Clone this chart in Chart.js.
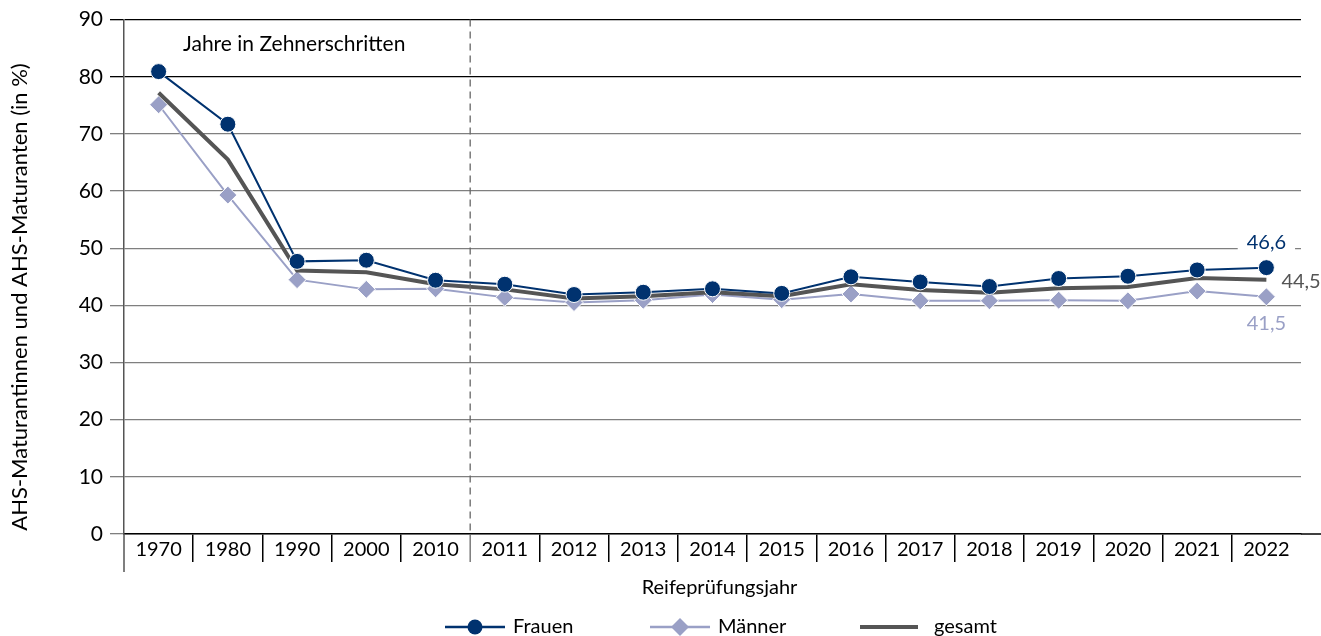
<!DOCTYPE html>
<html lang="de">
<head>
<meta charset="utf-8">
<script src="https://cdn.jsdelivr.net/npm/chart.js@4.4.0/dist/chart.umd.min.js"></script>
<style>
  html, body { margin: 0; padding: 0; background: #fff; }
  #wrap { width: 1321px; height: 636px; position: relative; }
</style>
</head>
<body>
<div id="wrap"><canvas id="chart"></canvas></div>
<script>
// ---------- Data ----------
const years = ["1970", "1980", "1990", "2000", "2010", "2011", "2012", "2013", "2014",
  "2015", "2016", "2017", "2018", "2019", "2020", "2021", "2022"];
const frauen = [80.9, 71.7, 47.7, 47.9, 44.4, 43.7, 41.9, 42.3, 42.9, 42.1, 45.0, 44.1, 43.3, 44.7, 45.1, 46.2, 46.6];
const maenner = [75.1, 59.3, 44.5, 42.8, 42.9, 41.4, 40.5, 40.9, 41.9, 41.0, 42.0, 40.8, 40.8, 40.9, 40.8, 42.5, 41.5];
const gesamt = [77.2, 65.5, 46.1, 45.8, 43.7, 42.8, 41.2, 41.6, 42.3, 41.6, 43.7, 42.7, 42.2, 43.0, 43.2, 44.8, 44.5];
const yTicks = [0, 10, 20, 30, 40, 50, 60, 70, 80, 90];

const C_FRAUEN = "#00326f";
const C_MAENNER = "#9aa0c6";
const C_GESAMT = "#555555";
const FONT = "Lato, 'Open Sans', sans-serif";

// ---------- Extra drawing (annotations, labels, legend) ----------
const extras = {
  id: "extras",
  afterDraw(chart) {
    const { ctx, chartArea, scales } = chart;
    const x = scales.x, y = scales.y;
    ctx.save();

    // dashed separator between decades and single years
    const xs = (x.getPixelForValue(4) + x.getPixelForValue(5)) / 2;
    ctx.strokeStyle = "#666";
    ctx.lineWidth = 1.3;
    ctx.setLineDash([7, 5]);
    ctx.beginPath();
    ctx.moveTo(xs, chartArea.top);
    ctx.lineTo(xs, chartArea.bottom);
    ctx.stroke();
    ctx.setLineDash([]);
    ctx.beginPath();
    ctx.moveTo(xs, chartArea.bottom);
    ctx.lineTo(xs, chartArea.bottom + 28);
    ctx.stroke();

    // y axis continues below the label row
    ctx.strokeStyle = "#555";
    ctx.lineWidth = 1.5;
    ctx.beginPath();
    ctx.moveTo(chartArea.left, chartArea.bottom);
    ctx.lineTo(chartArea.left, chartArea.bottom + 38);
    ctx.stroke();

    // x axis line runs on to the right edge
    ctx.strokeStyle = "#000";
    ctx.beginPath();
    ctx.moveTo(chartArea.right, chartArea.bottom);
    ctx.lineTo(chart.width, chartArea.bottom);
    ctx.stroke();

    ctx.font = "21px " + FONT;
    ctx.fillStyle = "#000";
    ctx.textBaseline = "middle";
    ctx.textAlign = "left";
    ctx.fillText("Jahre in Zehnerschritten", 183, 44);

    // end labels
    const last = years.length - 1;
    const lx = x.getPixelForValue(last);
    ctx.font = "20px " + FONT;
    ctx.textAlign = "center";
    const fy = y.getPixelForValue(frauen[last]) - 25;
    const tw = ctx.measureText("46,6").width;
    ctx.fillStyle = "#fff";
    ctx.fillRect(lx - tw / 2 - 9, fy - 10, tw + 18, 20);
    ctx.fillStyle = C_FRAUEN;
    ctx.fillText("46,6", lx, fy);
    ctx.fillStyle = C_MAENNER;
    ctx.fillText("41,5", lx, y.getPixelForValue(maenner[last]) + 27);
    ctx.fillStyle = C_GESAMT;
    ctx.textAlign = "left";
    ctx.fillText("44,5", lx + 15, y.getPixelForValue(gesamt[last]) + 2);

    // axis titles
    ctx.fillStyle = "#000";
    ctx.font = "20px " + FONT;
    ctx.textAlign = "center";
    ctx.fillText("Reifeprüfungsjahr", (chartArea.left + chartArea.right) / 2 + 7, 588);
    ctx.save();
    ctx.font = "22px " + FONT;
    ctx.translate(20, 297);
    ctx.rotate(-Math.PI / 2);
    ctx.fillText("AHS-Maturantinnen und AHS-Maturanten (in %)", 0, 0);
    ctx.restore();

    // legend
    const ly = 627;
    ctx.font = "20px " + FONT;
    ctx.textAlign = "left";
    // Frauen
    ctx.strokeStyle = C_FRAUEN; ctx.lineWidth = 2.5;
    ctx.beginPath(); ctx.moveTo(445, ly); ctx.lineTo(505, ly); ctx.stroke();
    ctx.fillStyle = C_FRAUEN;
    ctx.beginPath(); ctx.arc(475, ly, 7.5, 0, Math.PI * 2); ctx.fill();
    ctx.fillStyle = "#000"; ctx.fillText("Frauen", 513, ly);
    // Männer
    ctx.strokeStyle = C_MAENNER; ctx.lineWidth = 2.5;
    ctx.beginPath(); ctx.moveTo(650, ly); ctx.lineTo(710, ly); ctx.stroke();
    ctx.fillStyle = C_MAENNER;
    ctx.beginPath();
    ctx.moveTo(680, ly - 9); ctx.lineTo(689, ly); ctx.lineTo(680, ly + 9); ctx.lineTo(671, ly);
    ctx.closePath(); ctx.fill();
    ctx.fillStyle = "#000"; ctx.fillText("Männer", 718, ly);
    // gesamt
    ctx.strokeStyle = C_GESAMT; ctx.lineWidth = 4;
    ctx.beginPath(); ctx.moveTo(860, ly); ctx.lineTo(918, ly); ctx.stroke();
    ctx.fillStyle = "#000"; ctx.fillText("gesamt", 934, ly);

    ctx.restore();
  }
};

// ---------- Chart ----------
const ctxEl = document.getElementById("chart");
new Chart(ctxEl, {
  type: "line",
  data: {
    labels: years,
    datasets: [
      {
        label: "Frauen",
        data: frauen,
        borderColor: C_FRAUEN,
        backgroundColor: C_FRAUEN,
        borderWidth: 2,
        pointStyle: "circle",
        pointRadius: 8,
        pointBorderColor: "#fff",
        pointBorderWidth: 1,
        tension: 0
      },
      {
        label: "gesamt",
        data: gesamt,
        borderColor: C_GESAMT,
        borderWidth: 4,
        pointRadius: 0,
        tension: 0
      },
      {
        label: "Männer",
        data: maenner,
        borderColor: C_MAENNER,
        backgroundColor: C_MAENNER,
        borderWidth: 2,
        pointStyle: "rectRot",
        pointRadius: 9,
        pointBorderColor: "#fff",
        pointBorderWidth: 1,
        tension: 0
      }
    ]
  },
  options: {
    responsive: true,
    maintainAspectRatio: false,
    animation: false,
    layout: { padding: { top: 19, right: 20, left: 0, bottom: 0 } },
    plugins: {
      legend: { display: false },
      tooltip: { enabled: false }
    },
    scales: {
      x: {
        offset: true,
        afterFit: (scale) => { scale.height = 102; },
        border: { color: "#000", width: 1.5 },
        grid: {
          offset: true,
          drawOnChartArea: false,
          drawTicks: true,
          tickLength: 28,
          lineWidth: 1.5,
          color: (c) => (c.type !== "tick" || c.index === 0 || c.index === 5 ? "rgba(0,0,0,0)" : "#000")
        },
        ticks: {
          color: "#000",
          padding: -24,
          maxRotation: 0,
          autoSkip: false,
          font: { family: FONT, size: 20 }
        }
      },
      y: {
        min: 0,
        max: 90,
        afterFit: (scale) => { scale.width = 124; },
        afterBuildTicks: (scale) => { scale.ticks = yTicks.map((v) => ({ value: v })); },
        border: { color: "#555", width: 1.5 },
        grid: {
          drawTicks: true,
          tickLength: 14,
          lineWidth: 1.3,
          color: (c) => (c.tick && (c.tick.value === 80 || c.tick.value === 90) ? "#000" : "#7f7f7f")
        },
        ticks: {
          color: "#000",
          padding: 7,
          font: { family: FONT, size: 21 }
        }
      }
    }
  },
  plugins: [extras]
});
</script>
</body>
</html>
